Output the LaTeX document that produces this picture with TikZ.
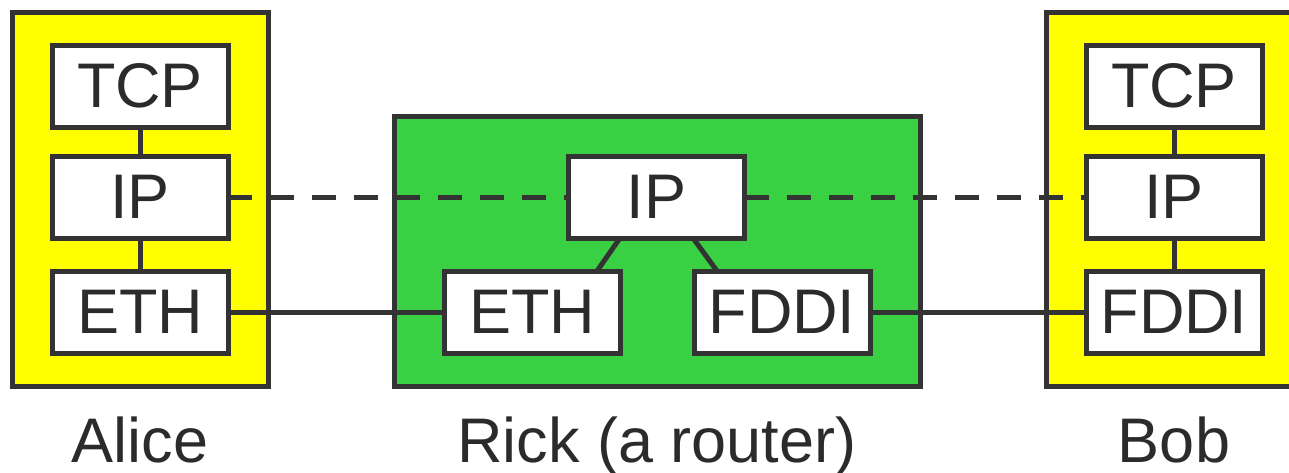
\documentclass[tikz,border=0pt]{standalone}
\usepackage{fontspec}
\setmainfont{Liberation Sans}
\usetikzlibrary{positioning,calc}
\definecolor{hostyellow}{HTML}{FFFF00}
\definecolor{routergreen}{HTML}{39D143}
\definecolor{edge}{HTML}{333333}
\definecolor{ink}{HTML}{2B2B2B}
\newcommand{\layerfont}{\fontsize{63pt}{70pt}\selectfont}
\tikzstyle{layerbox} = [rectangle, draw=edge, line width=5pt, inner sep=0pt, outer sep=0pt]
\tikzstyle{host} = [layerbox, fill=hostyellow, minimum width=256pt, minimum height=374pt]
\tikzstyle{router} = [layerbox, fill=routergreen, minimum width=526pt, minimum height=270pt]
\tikzstyle{layer} = [layerbox, fill=white, minimum width=176pt, minimum height=82pt, text=ink, font=\layerfont]
\tikzstyle{caption} = [inner sep=0pt, outer sep=0pt, text=ink, font=\layerfont, text height=46pt, text depth=8pt]
\tikzstyle{link} = [draw=edge, line width=5pt]
\tikzstyle{peer} = [link, dash pattern=on 24pt off 18pt]

\begin{document}
\begin{tikzpicture}[x=1pt, y=-1pt]
    \path[use as bounding box, clip] (0,0) rectangle (1289,472);

    \node (alice) [host] at (140,199) {};
    \node (rick) [router] at (657,251) {};
    \node (bob) [host] at (1174,199) {};

    \node (tcpA) [layer] at (140,86) {TCP};
    \node (ipA) [layer, below=29pt of tcpA] {IP};
    \node (ethA) [layer, below=33pt of ipA] {ETH};

    \node (ipR) [layer] at (656.5,197) {IP};
    \node (ethR) [layer] at (532,312) {ETH};
    \node (fddiR) [layer] at (782,312) {FDDI};

    \node (tcpB) [layer] at (1174,86) {TCP};
    \node (ipB) [layer, below=29pt of tcpB] {IP};
    \node (fddiB) [layer, below=33pt of ipB] {FDDI};

    \node (aliceName) [caption, below=30pt of alice] {Alice};
    \node (rickName) [caption, below=30pt of rick] {Rick (a router)};
    \node (bobName) [caption, below=30pt of bob] {Bob};

    \draw [link] (tcpA) -- (ipA);
    \draw [link] (ipA) -- (ethA);
    \draw [link] (tcpB) -- (ipB);
    \draw [link] (ipB) -- (fddiB);
    \draw [link] ($(ipR.south)+(-36.5,0)$) -- ($(ethR.north)+(65,0)$);
    \draw [link] ($(ipR.south)+(36.5,0)$) -- ($(fddiR.north)+(-65,0)$);

    \draw [link] (ethA) -- (ethR);
    \draw [link] (fddiR) -- (fddiB);
    \draw [peer] (ipA) -- (ipR);
    \draw [peer] (ipR) -- (ipB);
\end{tikzpicture}
\end{document}
